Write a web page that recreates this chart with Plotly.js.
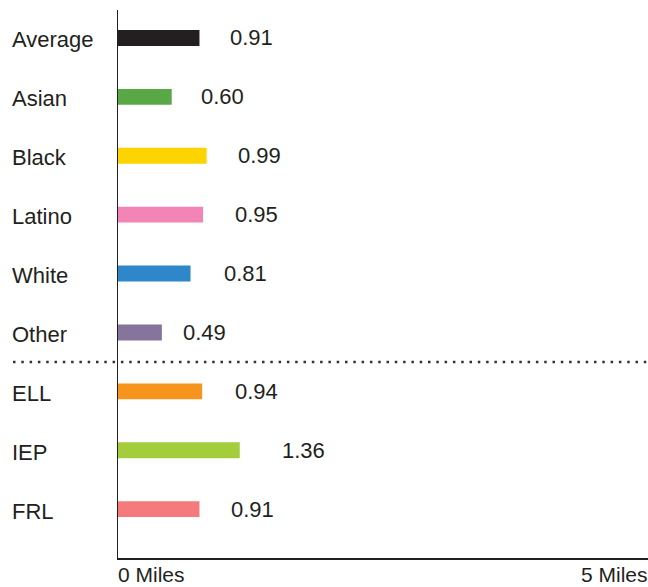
<!DOCTYPE html>
<html>
<head>
<meta charset="utf-8">
<script src="https://cdn.plot.ly/plotly-3.0.1.min.js"></script>
<style>html,body{margin:0;padding:0;background:#fff;}#chart{width:648px;height:587px;}</style>
</head>
<body>
<div id="chart"></div>
<script>
const categories = ["Average", "Asian", "Black", "Latino", "White", "Other", "ELL", "IEP", "FRL"];
const distances = [0.91, 0.60, 0.99, 0.95, 0.81, 0.49, 0.94, 1.36, 0.91];
const valueLabels = ["0.91", "0.60", "0.99", "0.95", "0.81", "0.49", "0.94", "1.36", "0.91"];
const barColors = ["#231f20", "#58a846", "#fdd300", "#f285b6", "#2e87c9", "#85749c", "#f7941e", "#a3cd3b", "#f47a7c"];
const tickLabels = ["0 Miles", "5 Miles"];

// label gap (px) after each bar end, as placed in the original layout
const labelGap = [29, 27, 29, 30, 31, 19, 31, 40, 30];

const textColor = "#231f20";
const fontFamily = "'Liberation Sans', Arial, sans-serif";

const trace = {
  type: "bar",
  orientation: "h",
  y: categories,
  x: distances,
  marker: { color: barColors, line: { width: 0 } },
  width: 0.27,
  hoverinfo: "none"
};

const annotations = [];
categories.forEach((c, i) => {
  annotations.push({
    xref: "paper", yref: "y", x: 0, y: c, xshift: -108, yshift: -2,
    xanchor: "left", yanchor: "middle", showarrow: false,
    text: c, font: { family: fontFamily, size: 22, color: textColor }
  });
  annotations.push({
    xref: "x", yref: "y", x: distances[i], y: c, xshift: labelGap[i], yshift: 0,
    xanchor: "left", yanchor: "middle", showarrow: false,
    text: valueLabels[i], font: { family: fontFamily, size: 22, color: textColor }
  });
});
annotations.push({
  xref: "paper", yref: "paper", x: 0, y: 0, yshift: -29, xshift: -1, borderpad: 0,
  xanchor: "left", yanchor: "bottom", showarrow: false,
  text: tickLabels[0], font: { family: fontFamily, size: 21, color: textColor }
});
annotations.push({
  xref: "paper", yref: "paper", x: 1, y: 0, yshift: -29, xshift: 1, borderpad: 0,
  xanchor: "right", yanchor: "bottom", showarrow: false,
  text: tickLabels[1], font: { family: fontFamily, size: 21, color: textColor }
});

const layout = {
  width: 648, height: 587,
  margin: { l: 118, r: 0, t: 10, b: 29, pad: 0 },
  paper_bgcolor: "#ffffff", plot_bgcolor: "#ffffff",
  showlegend: false,
  xaxis: {
    range: [0, 5.92], showgrid: false, zeroline: false, showticklabels: false,
    ticks: "", showline: true, linecolor: textColor, linewidth: 1.5, fixedrange: true
  },
  yaxis: {
    type: "category", range: [8.83, -0.475], showgrid: false, zeroline: false,
    showticklabels: false, ticks: "", showline: true, linecolor: textColor, linewidth: 1.5, fixedrange: true
  },
  shapes: [{
    type: "line", xref: "paper", yref: "y", x0: -105 / 530, x1: 1, y0: 5.5, y1: 5.5,
    line: { color: "#333333", width: 2.5, dash: "2.5px,5.8px" }
  }],
  annotations: annotations
};

Plotly.newPlot("chart", [trace], layout, { displayModeBar: false, staticPlot: true });
</script>
</body>
</html>
